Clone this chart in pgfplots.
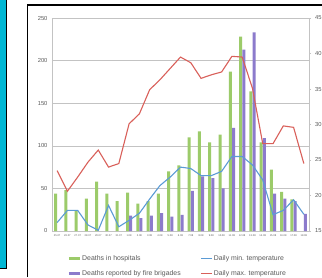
\documentclass[border=0pt]{standalone}
\usepackage{pgfplots}
\pgfplotsset{compat=1.18}
\usepackage{fontspec}
\setmainfont{Liberation Sans}
\definecolor{cyanpanel}{RGB}{0,183,212}
\definecolor{greenbar}{RGB}{156,203,106}
\definecolor{purplebar}{RGB}{140,123,204}
\definecolor{redline}{RGB}{217,96,90}
\definecolor{blueline}{RGB}{91,155,213}
\definecolor{gridgray}{RGB}{195,195,195}
\definecolor{labgray}{RGB}{90,90,90}
\begin{document}
\begin{tikzpicture}[x=1pt,y=1pt]
\fill[white] (0,0) rectangle (322,277);
\fill[cyanpanel] (0,8.5) rectangle (6.8,277);
\draw[black,line width=1.1pt] (0,8.5) -- (6.8,8.5) -- (6.8,277);
\draw[black,line width=1.3pt] (27.5,0) -- (27.5,272) -- (322,272);
\coordinate (O) at (52,46);
\begin{axis}[
  at={(O)}, anchor=south west,
  scale only axis, width=257pt, height=213pt,
  xmin=-0.5, xmax=24.5, ymin=0, ymax=250,
  ybar, bar width=3pt,
  axis y line*=left, axis x line*=bottom,
  axis line style={gridgray, line width=0.6pt},
  ytick={0,50,100,150,200,250},
  ymajorgrids, major grid style={gridgray, line width=0.6pt},
  major tick length=0pt,
  xtick={0,...,24},
  xticklabels={25.07,26.07,27.07,28.07,29.07,30.07,31.07,1.08,2.08,3.08,4.08,5.08,6.08,7.08,8.08,9.08,10.08,11.08,12.08,13.08,14.08,15.08,16.08,17.08,18.08},
  xticklabel style={font=\fontsize{2.6}{3}\selectfont, text=labgray, inner sep=1pt, yshift=-2pt},
  yticklabel style={font=\fontsize{5.8}{7}\selectfont, text=labgray, xshift=-1pt},
  /pgf/number format/assume math mode=true,
]
\addplot[fill=greenbar, draw=none, bar shift=-1.6pt] coordinates {
(0,44) (1,48) (2,24) (3,38) (4,58) (5,44) (6,35) (7,45) (8,32) (9,35)
(10,44) (11,70) (12,77) (13,110) (14,117) (15,104) (16,113) (17,187)
(18,228) (19,164) (20,104) (21,72) (22,46) (23,37)};
\addplot[fill=purplebar, draw=none, bar shift=1.6pt] coordinates {
(7,18) (8,15) (9,18) (10,21) (11,17) (12,19) (13,47) (14,64) (15,62)
(16,50) (17,121) (18,213) (19,233) (20,109) (21,44) (22,38) (23,35) (24,20)};
\end{axis}
\begin{axis}[
  at={(O)}, anchor=south west,
  scale only axis, width=257pt, height=213pt,
  xmin=-0.5, xmax=24.5, ymin=15, ymax=45,
  axis y line*=right, axis x line=none,
  axis line style={gridgray, line width=0.6pt},
  ytick={15,20,25,30,35,40,45},
  major tick length=2pt, tick style={gridgray, line width=0.5pt},
  ytick pos=right, tick align=outside,
  yticklabel style={font=\fontsize{5.8}{7}\selectfont, text=labgray, xshift=0.5pt},
  /pgf/number format/assume math mode=true,
  legend image code/.code={\draw[#1] (0pt,0pt) -- (11pt,0pt);},
  legend columns=2,
  legend style={at={(axis description cs:0.06,-0.108)}, anchor=north west,
    draw=none, fill=none, font=\fontsize{6.9}{8}\selectfont, text=labgray,
    nodes={inner sep=1pt},
    /tikz/every even column/.append style={column sep=19pt},
    /tikz/row sep=6.5pt, inner sep=0pt},
  legend cell align=left,
]
\addlegendimage{greenbar, line width=2.6pt}
\addlegendentry{Deaths in hospitals}
\addplot[blueline, line width=1.1pt, mark=none] coordinates {
(0,16.2) (1,17.9) (2,17.9) (3,15.85) (4,15.1) (5,18.6) (6,15.6) (7,16.5)
(8,17.5) (9,19.5) (10,21.4) (11,22.6) (12,24.0) (13,23.8) (14,22.8)
(15,22.8) (16,23.4) (17,25.5) (18,25.5) (19,24.3) (20,22.2) (21,17.3)
(22,17.9) (23,19.4) (24,17.35)};
\addlegendentry{Daily min. temperature}
\addlegendimage{purplebar, line width=2.6pt}
\addlegendentry{Deaths reported by fire brigades}
\addplot[redline, line width=1.1pt, mark=none] coordinates {
(0,23.5) (1,20.6) (2,22.6) (3,24.7) (4,26.4) (5,24.0) (6,24.5) (7,30.1)
(8,31.5) (9,34.9) (10,36.3) (11,37.9) (12,39.5) (13,38.7) (14,36.5)
(15,37.0) (16,37.4) (17,39.6) (18,39.5) (19,35.1) (20,27.3) (21,27.3)
(22,29.8) (23,29.6) (24,24.5)};
\addlegendentry{Daily max. temperature}
\end{axis}
\pgfresetboundingbox
\useasboundingbox (0,0) rectangle (322,277);
\end{tikzpicture}
\end{document}
